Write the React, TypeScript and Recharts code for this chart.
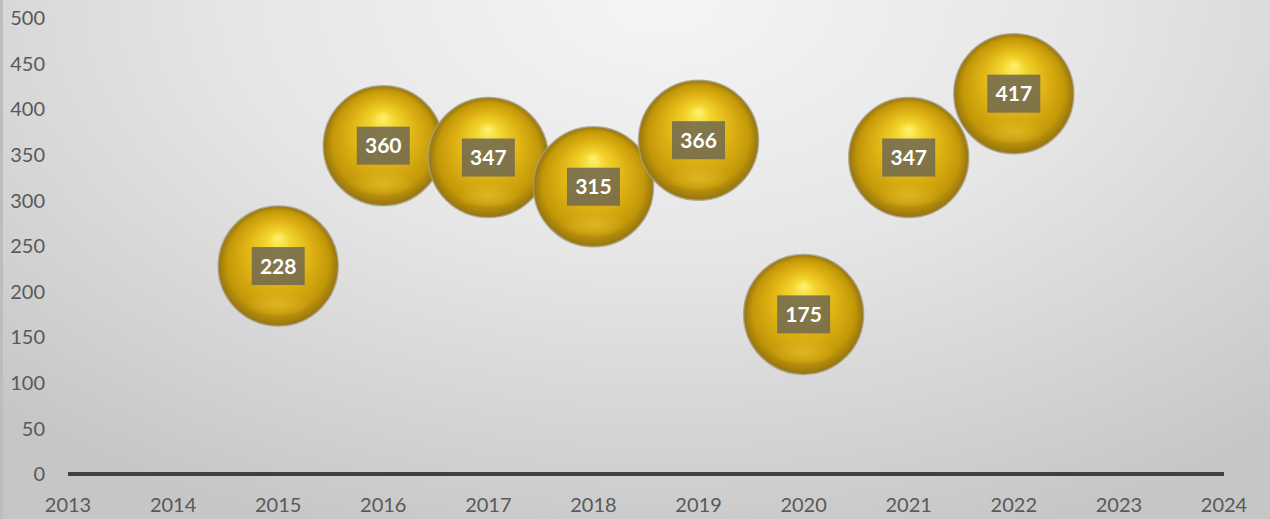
import React from 'react';
import {
  ScatterChart,
  Scatter,
  XAxis,
  YAxis,
} from 'recharts';

const years = [2015, 2016, 2017, 2018, 2019, 2020, 2021, 2022];
const values = [228, 360, 347, 315, 366, 175, 347, 417];
const xTicks = [2013, 2014, 2015, 2016, 2017, 2018, 2019, 2020, 2021, 2022, 2023, 2024];
const yTicks = [0, 50, 100, 150, 200, 250, 300, 350, 400, 450, 500];

const data = years.map((year, i) => ({ year, value: values[i] }));

const FONT = 'Lato, "Open Sans", sans-serif';

// gold sphere with a dark label box on top
function Bubble(props: any) {
  const { cx, cy, payload } = props;
  if (cx == null || cy == null) return null;
  const r = 60;
  return (
    <g>
      <circle cx={cx} cy={cy} r={r} fill="url(#goldBall)" stroke="#a89f86" strokeOpacity={0.8} strokeWidth={1.5} />
      <ellipse cx={cx} cy={cy + r * 0.6} rx={r * 0.55} ry={r * 0.22} fill="url(#goldGlow)" />
      <rect x={cx - 26.5} y={cy - 19} width={53} height={38} fill="#726a4e" fillOpacity={0.88} />
      <text
        x={cx}
        y={cy + 7.5}
        textAnchor="middle"
        fill="#ffffff"
        fontFamily={FONT}
        fontWeight={700}
        fontSize={21}
      >
        {payload.value}
      </text>
    </g>
  );
}

export default function App() {
  return (
    <div
      style={{
        position: 'absolute',
        left: 0,
        top: 0,
        width: 1270,
        height: 519,
        boxSizing: 'border-box',
        borderLeft: '3px solid #bdbdbd',
        background:
          'radial-gradient(ellipse 75% 110% at 52% 0%, #f5f5f5 0%, #e6e6e6 45%, #d2d2d2 80%, #c6c6c6 100%)',
      }}
    >
      <ScatterChart
        width={1267}
        height={519}
        margin={{ top: 18, right: 46, left: 5, bottom: 0 }}
      >
        <defs>
          <radialGradient id="goldBall" cx="50%" cy="50%" r="50%" fx="50%" fy="26%">
            <stop offset="0%" stopColor="#fff270" />
            <stop offset="20%" stopColor="#f3d52e" />
            <stop offset="55%" stopColor="#deb214" />
            <stop offset="85%" stopColor="#c39808" />
            <stop offset="100%" stopColor="#957410" />
          </radialGradient>
          <radialGradient id="goldGlow" cx="50%" cy="60%" r="50%">
            <stop offset="0%" stopColor="#efcb38" stopOpacity={0.5} />
            <stop offset="100%" stopColor="#efcb38" stopOpacity={0} />
          </radialGradient>
        </defs>
        <XAxis
          type="number"
          dataKey="year"
          domain={[2013, 2024]}
          ticks={xTicks}
          interval={0}
          height={45}
          axisLine={{ stroke: '#404040', strokeWidth: 4 }}
          tickLine={false}
          tickMargin={18}
          tick={{ fontSize: 20, fill: '#595959', fontFamily: FONT }}
        />
        <YAxis
          type="number"
          dataKey="value"
          domain={[0, 500]}
          ticks={yTicks}
          interval={0}
          width={60}
          axisLine={false}
          tickLine={false}
          tickMargin={17}
          tick={{ fontSize: 20, fill: '#595959', fontFamily: FONT }}
        />
        <Scatter data={data} shape={<Bubble />} isAnimationActive={false} />
      </ScatterChart>
    </div>
  );
}
